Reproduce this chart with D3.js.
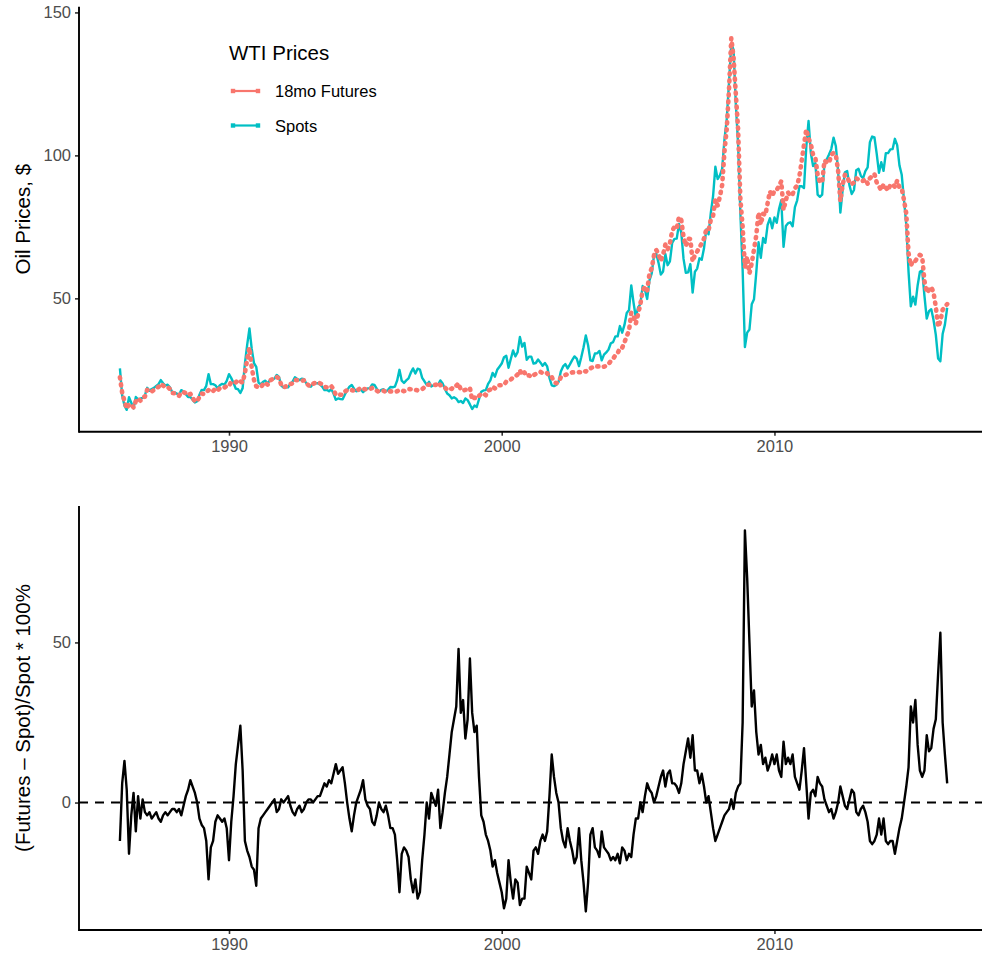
<!DOCTYPE html>
<html>
<head>
<meta charset="utf-8">
<script src="https://cdn.jsdelivr.net/npm/d3@7"></script>
<style>
  body { margin: 0; background: #fff; }
  svg { display: block; font-family: "Liberation Sans", Arial, sans-serif; }
</style>
</head>
<body>
<div id="chart"></div>
<script>
// monthly WTI values, Jan 1986 .. May 2016
const startYear = 1986;
const spot = [
  25.5, 16.0, 12.5, 11.0, 15.4, 13.5, 11.5, 15.5, 14.7, 14.9, 15.2, 16.1,
  18.7, 17.7, 18.3, 18.7, 19.4, 20.0, 21.4, 20.3, 19.5, 19.8, 18.9, 17.2,
  17.1, 16.7, 16.2, 17.9, 17.4, 16.5, 15.5, 15.5, 14.5, 13.6, 14.0, 16.3,
  18.0, 17.9, 19.4, 23.5, 20.0, 20.0, 19.6, 18.5, 19.6, 20.1, 19.8, 21.1,
  23.5, 22.1, 20.4, 18.4, 18.2, 16.9, 18.6, 27.2, 33.7, 39.5, 32.3, 27.3,
  26.0, 20.5, 19.9, 20.8, 21.2, 20.2, 21.4, 21.7, 21.9, 23.2, 22.5, 19.5,
  18.8, 19.0, 18.9, 20.2, 20.9, 22.4, 21.8, 21.4, 21.9, 21.7, 20.3, 19.4,
  19.1, 20.1, 20.3, 20.3, 19.9, 19.1, 17.9, 18.0, 17.5, 18.2, 16.7, 14.5,
  15.0, 14.8, 14.7, 16.4, 17.9, 19.1, 19.7, 18.4, 17.5, 17.7, 18.1, 17.2,
  18.0, 18.5, 18.6, 19.9, 19.7, 18.4, 17.3, 18.0, 18.2, 17.4, 18.0, 19.0,
  18.9, 19.1, 21.3, 25.0, 21.2, 20.4, 21.3, 22.0, 24.0, 25.5, 23.7, 25.4,
  25.1, 22.2, 21.0, 19.7, 20.8, 19.2, 19.6, 19.9, 19.8, 21.3, 20.2, 18.3,
  16.7, 16.1, 15.0, 15.4, 14.9, 13.7, 14.1, 13.4, 15.0, 14.4, 12.9, 11.3,
  12.5, 12.0, 14.7, 17.3, 17.8, 17.9, 20.1, 21.3, 23.9, 22.6, 25.0, 26.1,
  27.2, 29.4, 29.9, 25.7, 28.8, 31.8, 29.7, 31.2, 36.5, 33.1, 34.4, 28.5,
  29.6, 29.6, 27.2, 27.4, 28.6, 27.6, 26.4, 27.4, 26.2, 22.2, 19.6, 19.3,
  19.7, 20.7, 24.4, 26.2, 27.0, 25.5, 26.9, 28.4, 29.7, 28.9, 26.3, 29.4,
  32.9, 37.0, 33.6, 28.3, 28.1, 30.7, 30.8, 31.6, 28.3, 30.3, 31.1, 32.1,
  34.3, 34.7, 36.7, 36.7, 40.3, 38.0, 40.7, 44.9, 45.9, 54.5, 48.5, 43.3,
  46.8, 48.0, 54.3, 53.0, 49.8, 56.3, 58.7, 65.0, 65.6, 62.4, 58.3, 59.4,
  65.5, 61.6, 62.9, 69.4, 70.8, 70.9, 76.0, 73.0, 63.8, 58.9, 59.1, 62.0,
  52.0, 59.3, 60.4, 64.0, 63.5, 67.5, 74.1, 72.4, 79.9, 85.8, 96.0, 91.7,
  93.0, 95.4, 105.5, 112.6, 125.4, 139.0, 137.0, 118.0, 104.0, 80.0, 60.0, 33.0,
  38.0, 39.1, 47.9, 49.7, 59.0, 69.6, 64.2, 71.1, 69.4, 75.7, 78.0, 74.5,
  78.3, 76.4, 81.2, 84.3, 68.0, 75.3, 76.3, 76.6, 75.2, 81.9, 84.3, 89.2,
  89.2, 88.6, 102.9, 112.0, 100.9, 96.3, 97.3, 86.3, 85.5, 86.3, 97.2, 98.6,
  100.3, 102.2, 106.2, 103.3, 94.7, 80.0, 87.9, 94.1, 94.5, 89.5, 86.5, 87.9,
  94.8, 95.3, 92.9, 92.0, 94.5, 95.8, 104.6, 106.6, 106.3, 100.5, 93.9, 97.6,
  94.6, 100.8, 100.8, 102.1, 102.2, 105.8, 103.6, 96.5, 93.2, 84.4, 75.8, 59.3,
  47.2, 50.6, 47.8, 54.5, 59.3, 59.8, 50.9, 42.9, 45.5, 46.2, 42.4, 37.2,
  29.0, 28.0, 37.5, 40.8, 46.7
];
const futures = [
  22.4, 17.0, 14.1, 11.4, 12.9, 13.0, 11.8, 14.1, 15.0, 14.2, 15.4, 15.6,
  18.0, 17.2, 17.4, 18.0, 18.8, 19.0, 20.1, 19.5, 18.9, 19.0, 18.3, 16.9,
  16.8, 16.2, 15.9, 17.2, 17.2, 16.8, 16.1, 16.6, 15.2, 14.0, 14.0, 15.5,
  16.7, 16.5, 17.1, 17.9, 17.2, 17.6, 18.4, 17.8, 18.6, 18.9, 18.8, 19.4,
  19.3, 20.8, 20.8, 20.6, 21.5, 21.0, 20.5, 23.9, 28.6, 32.8, 25.8, 21.5,
  19.2, 18.9, 18.9, 20.0, 20.6, 19.8, 21.2, 21.7, 22.1, 22.5, 22.0, 19.7,
  18.8, 19.2, 19.3, 20.0, 20.3, 21.5, 21.4, 21.2, 21.2, 21.3, 20.3, 19.6,
  19.3, 20.1, 20.5, 20.7, 20.3, 19.9, 19.0, 18.9, 18.7, 19.3, 18.2, 16.2,
  16.4, 16.3, 16.3, 17.4, 17.9, 18.1, 17.9, 17.7, 17.5, 18.1, 18.8, 18.4,
  18.2, 18.3, 18.2, 18.7, 18.3, 17.7, 17.3, 17.6, 17.7, 17.2, 17.3, 17.5,
  17.4, 17.2, 17.5, 18.0, 17.8, 17.5, 18.1, 18.3, 18.2, 18.4, 18.0, 17.8,
  18.1, 18.2, 18.9, 19.7, 19.8, 19.8, 19.8, 19.7, 20.6, 19.6, 19.6, 18.8,
  18.0, 18.5, 18.3, 19.4, 19.4, 20.3, 18.0, 17.7, 18.0, 18.1, 18.7, 14.5,
  15.3, 14.9, 15.9, 16.6, 16.7, 16.1, 17.7, 18.1, 19.1, 18.5, 19.5, 19.6,
  19.6, 19.7, 20.9, 21.1, 21.6, 22.3, 22.6, 23.4, 24.8, 23.2, 24.1, 22.8,
  23.1, 22.5, 23.1, 23.6, 24.0, 24.3, 23.8, 24.1, 23.8, 22.6, 22.5, 20.8,
  20.3, 20.7, 22.4, 23.1, 23.2, 23.5, 23.7, 24.1, 24.1, 24.0, 24.2, 24.1,
  24.7, 24.4, 25.2, 25.5, 25.9, 26.4, 26.2, 26.2, 25.8, 26.1, 26.4, 27.0,
  28.1, 28.8, 30.1, 30.8, 32.6, 32.7, 34.6, 36.8, 38.6, 45.0, 43.7, 41.1,
  44.5, 48.0, 52.7, 54.1, 52.8, 58.6, 60.5, 65.0, 66.9, 65.5, 63.0, 65.3,
  68.8, 67.1, 69.2, 73.6, 75.0, 74.4, 78.5, 77.4, 71.5, 68.3, 70.9, 70.7,
  62.9, 65.2, 66.4, 67.8, 69.2, 70.9, 74.1, 73.8, 77.5, 78.9, 84.5, 82.5,
  85.6, 89.7, 101.3, 109.2, 122.9, 141.0, 134.3, 121.5, 109.3, 84.8, 75.0, 61.0,
  64.6, 58.7, 62.3, 67.1, 72.0, 80.0, 75.8, 79.6, 79.1, 83.3, 87.4, 85.7,
  87.7, 87.9, 89.3, 91.0, 80.9, 84.3, 87.0, 85.8, 86.5, 88.5, 89.4, 92.8,
  98.1, 103.7, 109.1, 106.0, 103.9, 100.2, 99.2, 93.2, 90.6, 90.6, 98.2, 97.6,
  97.3, 100.2, 100.9, 100.2, 94.7, 84.0, 89.7, 93.2, 92.6, 90.4, 90.0, 90.5,
  92.0, 91.5, 91.0, 91.1, 91.7, 90.1, 92.0, 92.7, 93.5, 90.5, 89.2, 87.8,
  89.9, 88.7, 87.7, 89.8, 89.9, 88.9, 91.2, 88.8, 88.5, 84.4, 79.6, 65.8,
  61.4, 63.3, 63.1, 64.3, 65.2, 64.6, 56.0, 52.0, 53.0, 54.0, 52.0, 47.0,
  40.0, 42.0, 46.0, 47.0, 48.0
];
const spread = [
  -12, 6, 13, 4, -16, -4, 3, -9, 2, -5, 1, -3,
  -4, -3, -5, -4, -3, -5, -6, -4, -3, -4, -3, -2,
  -2, -3, -2, -4, -1, 2, 4, 7, 5, 3, 0, -5,
  -7, -8, -12, -24, -14, -12, -6, -4, -5, -6, -5, -8,
  -18, -6, 2, 12, 18, 24, 10, -12, -15, -17, -20, -21,
  -26, -8, -5, -4, -3, -2, -1, 0, 1, -3, -2, 1,
  0, 1, 2, -1, -3, -4, -2, -1, -3, -2, 0, 1,
  1, 0, 1, 2, 2, 4, 6, 5, 7, 6, 9, 12,
  9, 10, 11, 6, 0, -5, -9, -4, 0, 2, 4, 7,
  1, -1, -2, -6, -7, -4, 0, -2, -3, -1, -4, -8,
  -8, -10, -18, -28, -16, -14, -15, -17, -24, -28, -24, -30,
  -28, -18, -10, 0, -5, 3, 1, -1, 4, -8, -3, 3,
  8, 15, 22, 26, 30, 48, 28, 32, 20, 26, 45, 28,
  22, 24, 8, -4, -6, -10, -12, -15, -20, -18, -22, -25,
  -28, -33, -30, -18, -25, -30, -24, -25, -32, -30, -30, -20,
  -22, -24, -15, -14, -16, -12, -10, -12, -9, 2, 15, 8,
  3, 0, -8, -12, -14, -8, -12, -15, -19, -17, -8, -18,
  -25, -34, -25, -10, -8, -14, -15, -17, -9, -14, -15, -16,
  -18, -17, -18, -16, -19, -14, -15, -18, -16, -17, -10, -5,
  -5, 0, -3, 2, 6, 4, 3, 0, 2, 5, 8, 10,
  5, 9, 10, 6, 6, 5, 3, 6, 12, 16, 20, 14,
  21, 10, 10, 6, 9, 5, 0, 2, -3, -8, -12, -10,
  -8, -6, -4, -3, -2, 1, -2, 3, 5, 6, 25, 85,
  70, 50, 30, 35, 22, 15, 18, 12, 14, 10, 12, 15,
  12, 15, 10, 8, 19, 12, 14, 12, 15, 8, 6, 4,
  10, 17, 6, -5, 3, 4, 2, 8, 6, 5, 1, -1,
  -3, -2, -5, -3, 0, 5, 2, -1, -2, 1, 4, 3,
  -3, -4, -2, -1, -3, -6, -12, -13, -12, -10, -5, -10,
  -5, -12, -13, -12, -12, -16, -12, -8, -5, 0, 5, 11,
  30, 25, 32, 18, 10, 8, 10, 21, 16, 17, 23, 26,
  40, 53, 25, 15, 6
];
const xTicks = [1990, 2000, 2010];
const priceTicks = [50, 100, 150];
const spreadTicks = [0, 50];
const seriesNames = ["18mo Futures", "Spots"];
const seriesColors = ["#F8766D", "#00BFC4"];

const width = 982, height = 959;
const left = 79, right = 982;
const top1 = 6.7, bottom1 = 431.7;
const top2 = 506, bottom2 = 930;

const months = spot.map((_, i) => startYear + i / 12);

const svg = d3.select("#chart").append("svg")
  .attr("width", width)
  .attr("height", height);

const x = d3.scaleLinear().domain([1984.5, 2017.61]).range([left, right]);
const y1 = d3.scaleLinear().domain([3.36, 152]).range([bottom1, top1]);
const y2 = d3.scaleLinear().domain([-39.8, 92.6]).range([bottom2, top2]);

function drawAxes(yScale, yTicks, yTop, yBottom, title) {
  const gx = svg.append("g")
    .attr("transform", `translate(0,${yBottom})`)
    .call(d3.axisBottom(x).tickValues(xTicks).tickFormat(d3.format("d")).tickSize(4).tickPadding(4));
  const gy = svg.append("g")
    .attr("transform", `translate(${left},0)`)
    .call(d3.axisLeft(yScale).tickValues(yTicks).tickSize(4).tickPadding(4));
  [gx, gy].forEach((g) => {
    g.select(".domain").remove();
    g.selectAll(".tick line").attr("stroke", "#333").attr("stroke-width", 1.6);
    g.selectAll(".tick text").attr("fill", "#4D4D4D").style("font-size", "16.5px")
      .style("font-family", '"Liberation Sans", Arial, sans-serif');
  });
  gx.selectAll(".tick text").attr("dy", "0.75em");
  svg.append("line")
    .attr("x1", left).attr("x2", right)
    .attr("y1", yBottom).attr("y2", yBottom)
    .attr("stroke", "#000").attr("stroke-width", 1.9);
  svg.append("line")
    .attr("x1", left).attr("x2", left)
    .attr("y1", yTop).attr("y2", yBottom + 0.95)
    .attr("stroke", "#000").attr("stroke-width", 1.9);
  svg.append("text")
    .attr("transform", `translate(30,${(yTop + yBottom) / 2}) rotate(-90)`)
    .attr("text-anchor", "middle")
    .style("font-size", "20.5px")
    .attr("fill", "#000")
    .text(title);
}

drawAxes(y1, priceTicks, top1, bottom1, "Oil Prices, $");
drawAxes(y2, spreadTicks, top2, bottom2, "(Futures \u2013 Spot)/Spot * 100%");

// top panel: spot then futures over it
const priceLine = (values, yScale) => d3.line()
  .x((d, i) => x(months[i]))
  .y((d) => yScale(d))(values);

svg.append("path")
  .attr("d", priceLine(spot, y1))
  .attr("fill", "none")
  .attr("stroke", seriesColors[1])
  .attr("stroke-width", 2.4)
  .attr("stroke-linejoin", "round");

svg.append("path")
  .attr("d", priceLine(futures, y1))
  .attr("fill", "none")
  .attr("stroke", seriesColors[0])
  .attr("stroke-width", 4.6)
  .attr("stroke-dasharray", "1.2,5.8")
  .attr("stroke-linecap", "round")
  .attr("stroke-linejoin", "round");

// legend
const legend = svg.append("g").attr("transform", "translate(229,0)");
legend.append("text")
  .attr("x", 0).attr("y", 60)
  .style("font-size", "20.5px")
  .text("WTI Prices");
seriesNames.forEach((name, i) => {
  const ky = 91 + i * 34.5;
  const row = legend.append("g");
  row.append("line")
    .attr("x1", 4).attr("x2", 29).attr("y1", ky).attr("y2", ky)
    .attr("stroke", seriesColors[i]).attr("stroke-width", 2.2);
  [4, 29].forEach((kx) => {
    row.append("rect")
      .attr("x", kx - 2.2).attr("y", ky - 2.2)
      .attr("width", 4.4).attr("height", 4.4)
      .attr("fill", seriesColors[i]);
  });
  row.append("text")
    .attr("x", 46).attr("y", ky + 6)
    .style("font-size", "16.5px")
    .text(name);
});

// bottom panel
svg.append("line")
  .attr("x1", left).attr("x2", right)
  .attr("y1", y2(0)).attr("y2", y2(0))
  .attr("stroke", "#000")
  .attr("stroke-width", 1.9)
  .attr("stroke-dasharray", "9,7");

svg.append("path")
  .attr("d", priceLine(spread, y2))
  .attr("fill", "none")
  .attr("stroke", "#000")
  .attr("stroke-width", 2.4)
  .attr("stroke-linejoin", "round");
</script>
</body>
</html>
